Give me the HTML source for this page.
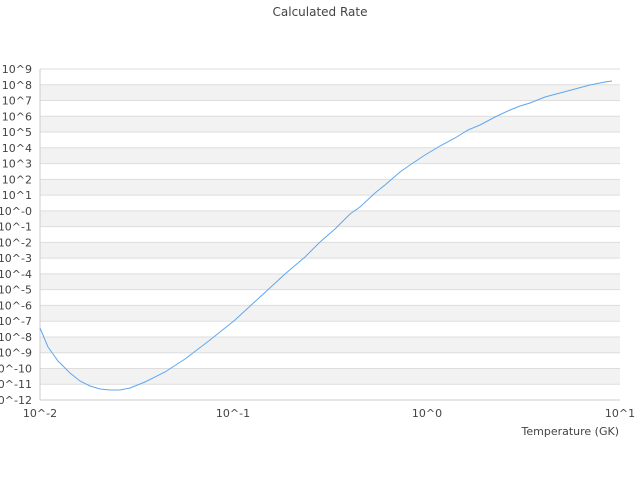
<!DOCTYPE html>
<html><head><style>body{margin:0;background:#fff}svg{display:block}text{font-family:"DejaVu Sans","Liberation Sans",sans-serif;fill:#444}</style></head><body>
<svg width="640" height="480" xmlns="http://www.w3.org/2000/svg">
<text x="320" y="16" font-size="12" text-anchor="middle">Calculated Rate</text>
<g fill="#f2f2f2">
<rect x="40" y="84.76" width="580" height="15.76"/>
<rect x="40" y="116.29" width="580" height="15.76"/>
<rect x="40" y="147.81" width="580" height="15.76"/>
<rect x="40" y="179.33" width="580" height="15.76"/>
<rect x="40" y="210.86" width="580" height="15.76"/>
<rect x="40" y="242.38" width="580" height="15.76"/>
<rect x="40" y="273.9" width="580" height="15.76"/>
<rect x="40" y="305.43" width="580" height="15.76"/>
<rect x="40" y="336.95" width="580" height="15.76"/>
<rect x="40" y="368.48" width="580" height="15.76"/>
</g>
<g stroke="#dddddd" stroke-width="1">
<line x1="40" x2="620" y1="69" y2="69"/><line x1="40" x2="620" y1="84.76" y2="84.76"/><line x1="40" x2="620" y1="100.52" y2="100.52"/><line x1="40" x2="620" y1="116.29" y2="116.29"/><line x1="40" x2="620" y1="132.05" y2="132.05"/><line x1="40" x2="620" y1="147.81" y2="147.81"/><line x1="40" x2="620" y1="163.57" y2="163.57"/><line x1="40" x2="620" y1="179.33" y2="179.33"/><line x1="40" x2="620" y1="195.1" y2="195.1"/><line x1="40" x2="620" y1="210.86" y2="210.86"/><line x1="40" x2="620" y1="226.62" y2="226.62"/><line x1="40" x2="620" y1="242.38" y2="242.38"/><line x1="40" x2="620" y1="258.14" y2="258.14"/><line x1="40" x2="620" y1="273.9" y2="273.9"/><line x1="40" x2="620" y1="289.67" y2="289.67"/><line x1="40" x2="620" y1="305.43" y2="305.43"/><line x1="40" x2="620" y1="321.19" y2="321.19"/><line x1="40" x2="620" y1="336.95" y2="336.95"/><line x1="40" x2="620" y1="352.71" y2="352.71"/><line x1="40" x2="620" y1="368.48" y2="368.48"/><line x1="40" x2="620" y1="384.24" y2="384.24"/>
</g>
<g stroke="#cccccc"><line x1="40" x2="40" y1="69" y2="400"/><line x1="40" x2="620" y1="400" y2="400"/></g>
<g font-size="11" text-anchor="end">
<text x="32" y="73">10^9</text><text x="32" y="88.8">10^8</text><text x="32" y="104.5">10^7</text><text x="32" y="120.3">10^6</text><text x="32" y="136">10^5</text><text x="32" y="151.8">10^4</text><text x="32" y="167.6">10^3</text><text x="32" y="183.3">10^2</text><text x="32" y="199.1">10^1</text><text x="32" y="214.9">10^-0</text><text x="32" y="230.6">10^-1</text><text x="32" y="246.4">10^-2</text><text x="32" y="262.1">10^-3</text><text x="32" y="277.9">10^-4</text><text x="32" y="293.7">10^-5</text><text x="32" y="309.4">10^-6</text><text x="32" y="325.2">10^-7</text><text x="32" y="341">10^-8</text><text x="32" y="356.7">10^-9</text><text x="32" y="372.5">10^-10</text><text x="32" y="388.2">10^-11</text><text x="32" y="404">10^-12</text>
</g>
<g font-size="11" text-anchor="middle">
<text x="40" y="417">10^-2</text><text x="233" y="417">10^-1</text><text x="427" y="417">10^0</text><text x="620" y="417">10^1</text>
</g>
<text x="619" y="435" font-size="11" text-anchor="end">Temperature (GK)</text>
<polyline fill="none" stroke="#5ea8ee" stroke-width="1" points="40,328 48,347 58,361 70,373 80,381 90,386 100,389 110,390 120,390 130,388 145,382 165,372 185,359 210,340 235,320 260,297 285,274 305,257 320,242 335,229 350,214 360,207 375,193 385,185 400,172 410,165 425,155 440,146 455,138 468,130 480,125 495,117 510,110 520,106 530,103 545,97 560,93 575,89 590,85 605,82 612,81"/>
</svg>
</body></html>
